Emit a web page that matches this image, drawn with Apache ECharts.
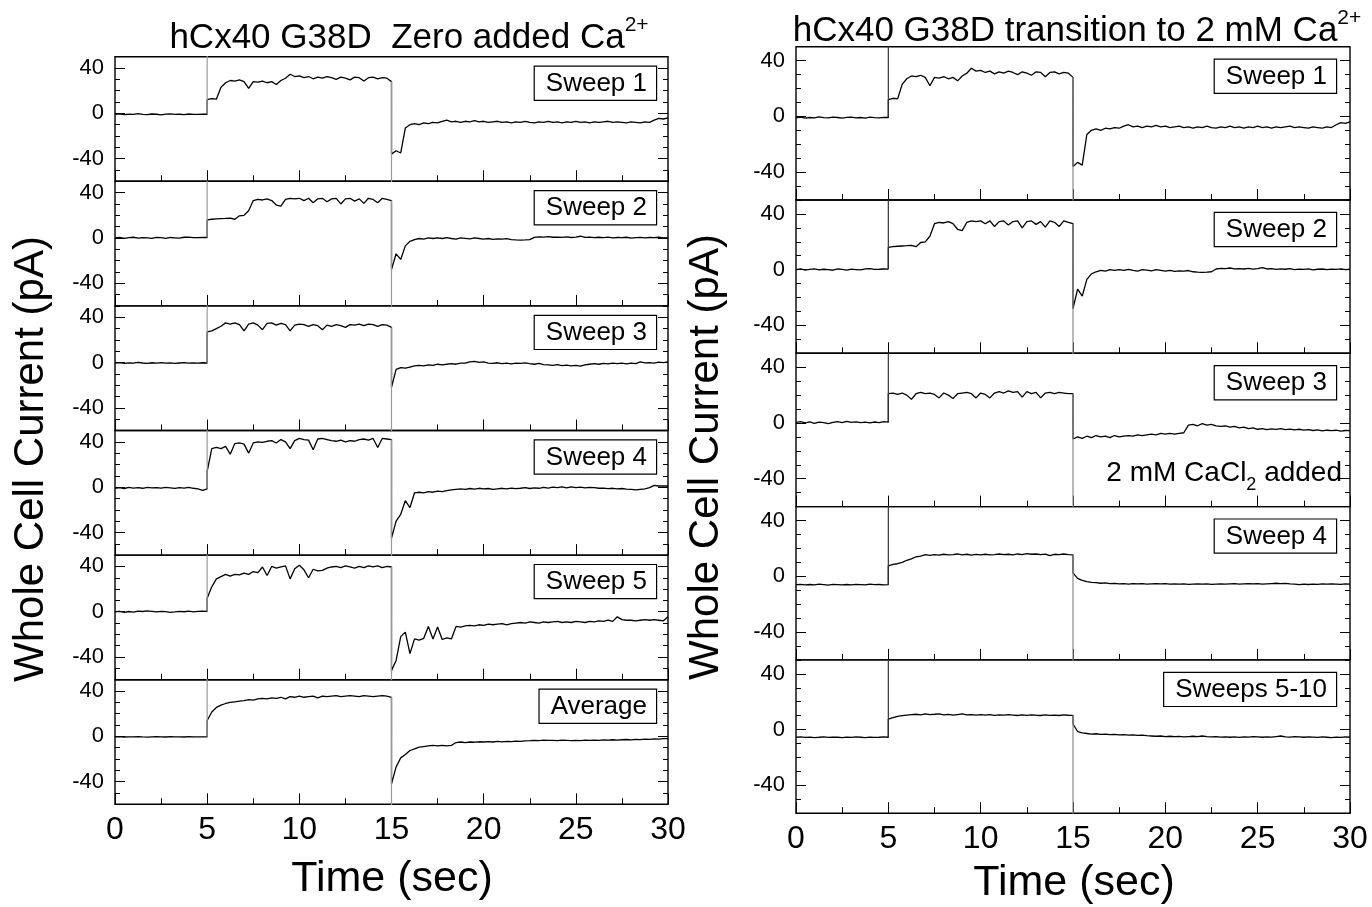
<!DOCTYPE html>
<html>
<head>
<meta charset="utf-8">
<title>hCx40 G38D whole cell current sweeps</title>
<script src="https://cdn.jsdelivr.net/npm/echarts@6.0.0/dist/echarts.min.js"></script>
<style>
  html, body { margin: 0; padding: 0; background: #fff; }
  #chart { width: 1372px; height: 907px; }
</style>
</head>
<body>
<div id="chart"></div>
<script>
// sampling grid (s): 0.25 s steps, the pulse edges at 5 s and 15 s are listed twice
const times = [];
for (let i = 0; i <= 120; i++) {
  const t = i * 0.25;
  times.push(t);
  if (t === 5 || t === 15) times.push(t);
}

// currents (pA). each array: 21 values 0-5 s, 41 values 5-15 s, 61 values 15-30 s
const sweep1 = [
  -1, -0.5, -1.2, -0.8, -1, -0.3, -0.9, -1.1, -0.6, -0.8, -1.3, -0.7, -0.5, -1, -0.8, -1.2, -0.6, -0.9, -1, -0.7, -0.8,
  12, 13, 12.5, 23, 27, 29, 28.5, 29.5, 28, 22, 28, 27.5, 28.5, 27, 28, 25.5, 29, 31, 34.5, 32.5,
  33, 31.5, 32.5, 30.5, 32, 31, 32.5, 31.5, 30, 32, 31, 29.5, 32, 31.5, 28.5, 31.5, 32, 30.5, 31.5, 31, 28,
  -36, -33, -35, -13, -10, -9, -10, -8.5, -9, -8, -8.5, -7, -6, -7.5, -7, -8, -7, -7.5, -6.5, -7.5,
  -7, -8, -7.5, -7, -8, -7.5, -8.5, -7.5, -8, -7, -8, -8.5, -7.5, -8, -7, -8, -7.5, -8.5, -7.5, -8,
  -7, -8, -7.5, -8.5, -7.5, -8, -7.5, -7, -8, -7.5, -8, -8.5, -7.5, -8, -8.5, -7.5, -8, -6, -4.5, -5, -4
];
const sweep2 = [
  0, 0.5, -0.3, 0.2, 0.6, -0.2, 0.3, 0, -0.4, 0.5, 0.2, -0.3, 0.4, 0.1, -0.2, 0.6, 0.8, 0.2, 0.3, 0.5, 0.4,
  16, 16.5, 16.8, 17, 17.2, 17.5, 16.5, 19.5, 20, 24, 33, 34, 33.5, 34.5, 33, 29, 28, 34, 35, 34.5,
  35, 33, 35, 31, 34.5, 35, 32, 34.5, 35, 30, 34.5, 35, 32.5, 34.5, 30.5, 35, 34, 31, 35, 34, 33,
  -28, -14, -19, -7, -3, -1.5, -0.5, -1, 0, -0.5, 0, -0.5, 0.3, -0.5, -1, 0, -0.3, -0.8, 0, -0.5,
  -1, -0.5, -1.2, -0.8, -1, -0.6, -1.5, -1.8, -2, -1.8, -1.5, 0.5, 1, 0.8, 1.2, 0.6, 0.8, 0.5, 1, 0.4,
  0.8, 1.5, 0.5, 0.8, 0.2, 0.6, 0.3, 0.8, 0, 0.4, 0.2, 0.6, -0.2, 0.3, 0.5, 0, 0.4, 0.2, 0.6, 0.1, 0.3
];
const sweep3 = [
  -0.5, 0, -0.8, -0.3, -0.6, 0.2, -0.4, -0.7, -0.2, -0.5, 0, -0.6, -0.3, -0.8, -0.4, -0.1, -0.6, -0.3, -0.5, -0.2, -0.4,
  27, 28, 30, 32, 35, 34, 35, 33.5, 28, 34, 35, 33, 29, 34.5, 35, 33, 34.5, 33.5, 28, 33,
  34, 33.5, 32, 33.5, 32.5, 29, 33, 32, 33.5, 32.5, 31, 33.5, 33, 34, 32.5, 34, 33.5, 32, 33.5, 33, 31,
  -22, -6, -4.5, -5, -4, -3, -2.5, -3, -2, -2.5, -1.5, -2, -1.5, -1, -1.5, -0.5, -0.5, 0.5, 1, 0.2,
  0.5, -0.5, -0.8, -0.2, -1, -0.5, -1.2, -0.6, -0.8, -0.3, -1, -1.5, -0.8, -1.8, -2, -2.5, -1.8, -2.8, -2.2, -3,
  -2.5, -3.2, -2, -1.5, -1, -1.5, -0.8, -1.2, -0.5, -1, -0.6, -1.2, -0.5, -1, 0.5, -0.3, 0, -0.5, 0.3, 0, 0.5
];
const sweep4 = [
  -1, -0.5, -1.2, -0.3, -0.8, -0.5, -1, -0.2, -0.7, -0.4, -0.9, -0.3, -0.6, -1.1, -0.5, -0.8, -0.3, -1, -1.5, -2.8, -1.5,
  14, 34, 35, 34, 36, 29, 38.5, 39, 38, 30, 39, 40, 39.5, 40.5, 41, 39, 42, 40, 34, 41,
  43, 42, 41.5, 33, 42.5, 43, 42, 41, 40.5, 41.5, 40, 41, 40.5, 42, 42.5, 41.5, 43, 35, 43, 42.5, 42,
  -45, -30, -24, -12, -18, -5, -4.5, -5, -4, -4.5, -3.5, -4, -3, -2.5, -2, -1.5, -2, -1.2, -1.8, -1,
  -1.5, -1.2, -2, -1.5, -1, -1.6, -0.8, -1.4, -1, -0.5, -1.2, -0.6, -1, -0.3, -0.8, 0, -0.5, 0.3, -0.6, 0.2,
  -0.4, 0, -0.6, -0.2, -0.5, -1, -0.8, -1.4, -1, -1.6, -1.2, -1.8, -2, -2.5, -2, -1.5, -0.5, 1.5, 1, 1.2, 1
];
const sweep5 = [
  0, 0.3, -0.5, 0.2, -0.3, 0.6, 0.2, 0.8, 0.3, -0.2, 0.4, 0.1, -0.5, -0.2, 0.3, 0, 0.5, -0.1, 0.4, 0.6, 0.3,
  12, 22, 29, 31, 33, 31.5, 33, 32.5, 34, 33, 35.5, 34.5, 39.5, 32, 40, 38.5, 39.5, 40.5, 29, 38,
  41, 37, 30, 37.5, 36, 36.5, 38.5, 39.5, 40, 39, 40.5, 39.5, 38.5, 40, 39, 40.5, 39.5, 40.5, 39, 40, 39.5,
  -52, -43, -22, -18, -37, -24, -25, -23.5, -13, -24, -13.5, -24.5, -23, -24, -13, -13.5, -12.5, -12, -12.5, -11.5,
  -12, -11, -11.5, -11, -10.5, -11.5, -10.5, -10, -9.5, -10, -9, -9.5, -10, -9, -9.5, -9, -8.5, -9.5, -9, -9.5,
  -8.5, -9, -9.5, -8.5, -9, -8, -8.5, -7.5, -8.5, -4.5, -7, -7.5, -7.5, -8, -7.5, -7, -7.5, -7, -7.5, -8, -4.5
];
const sweepAverage = [
  -0.5, -0.3, -0.6, -0.4, -0.5, -0.2, -0.5, -0.7, -0.4, -0.3, -0.5, -0.6, -0.3, -0.5, -0.4, -0.6, -0.3, -0.5, -0.4, -0.5, -0.4,
  14, 21.5, 25.5, 27.5, 29, 30, 30.5, 31, 31.5, 32.5, 32, 33, 33.5, 33, 34, 33.5, 34.5, 33, 35, 34.5,
  35.5, 34.5, 35, 35.5, 34, 35.5, 35, 35.5, 36, 35, 35.5, 36, 35.5, 35, 36, 35.5, 35, 35.5, 36, 35.5, 34.5,
  -42, -27, -19, -16, -12.5, -11, -9.5, -9, -8.5, -8, -8.5, -8, -8.5, -8, -5.5, -5, -5.5, -5, -5.2, -4.8,
  -5, -4.6, -5, -4.5, -4.8, -4.4, -4.6, -4.2, -4.5, -4, -3.8, -3.5, -3.8, -3.4, -3.6, -3.5, -3.8, -3.4, -3.6, -3.8,
  -3.5, -3.7, -3.4, -3.6, -3.3, -3.5, -3.2, -3.4, -3, -3.3, -3, -2.8, -3.1, -2.7, -2.9, -2.5, -2.6, -2.3, -2.5, -2.1, -2
];
const caSweep3 = [
  0.5, 1, 0, 0.8, -0.3, 0.6, 0.2, -0.5, 0.4, 0.9, 0.3, 1.2, 0.5, 0.8, 0.2, 0.6, 0, 0.7, 0.3, 1, 0.6,
  21, 21.5, 20.5, 21.5, 20, 17, 21, 22, 21, 21.5, 20.5, 18, 21.5, 20, 17.5, 21, 21.5, 22, 21, 18,
  21.5, 20.5, 18, 21.5, 22.5, 21.5, 23, 22, 22.5, 18.5, 22.5, 21, 22, 18, 21.5, 22, 21, 22, 21.5, 21, 21,
  -11.5, -10, -11, -9.5, -10.5, -9, -10, -9.5, -10.5, -9, -10, -9.5, -9, -9.5, -8.5, -9, -8.5, -8, -8.5, -7.5,
  -8, -7.5, -8, -7.5, -7, -1.5, -1, -2, -0.5, -1.5, -1, -2, -2.5, -2, -3, -2.5, -3.5, -3, -4, -3.5,
  -4.5, -4, -4.8, -4.2, -4.6, -4, -4.8, -4.4, -5, -4.5, -5.2, -4.8, -5.4, -5, -5.6, -5.2, -5.5, -5.2, -5.8, -5.4, -5.5
];
const caSweep4 = [
  -6, -5.8, -6.2, -5.9, -6.1, -5.7, -6, -6.3, -5.8, -6, -6.2, -5.9, -6.1, -5.8, -6, -6.2, -5.7, -6, -5.9, -6.1, -6,
  7.5, 8.5, 9, 10, 11.5, 12.5, 14, 14.5, 15.5, 15, 15.5, 15.2, 15.8, 15.3, 15.6, 16, 15.4, 15.8, 15.2, 15.7,
  15.4, 15.8, 15.3, 15.6, 16, 15.5, 15.8, 15.4, 16, 15.6, 16.2, 15.8, 16, 15.5, 15.9, 14.8, 15.8, 15.6, 16, 15.6, 15.4,
  2.4, -1.5, -3, -3.8, -4.4, -4.6, -5, -4.8, -5.3, -5.1, -5.5, -5.3, -5.6, -5.2, -5.5, -5.3, -5.6, -5.4, -5.2, -5.5,
  -5.3, -5.6, -5.4, -5.7, -5.5, -5.8, -5.6, -5.4, -5.7, -5.5, -5.8, -5.6, -5.4, -5.7, -5.5, -5.3, -5.6, -5.4, -5.2, -5.5,
  -5.3, -5.6, -5.4, -5.2, -5, -5.3, -5.1, -5.4, -5.6, -6, -5.7, -5.9, -5.6, -5.8, -5.5, -5.7, -5.4, -5.6, -5.8, -5.5, -5.6
];
const caSweeps5to10 = [
  -5.5, -5.3, -5.6, -5.4, -5.7, -5.5, -5.2, -5.6, -5.4, -5.5, -5.8, -5.4, -5.6, -5.3, -5.5, -5.7, -5.4, -5.6, -5.5, -5.3, -5.5,
  7.5, 8.5, 9.5, 10, 10.4, 10.8, 11, 10.6, 11.2, 10.8, 11, 11.3, 10.6, 10.9, 10.4, 10.8, 11.2, 10.5, 10.8, 10.3,
  10.7, 10.4, 10.8, 10.2, 10.6, 10.3, 10.7, 10.4, 10.1, 10.5, 10.2, 10.6, 10.3, 10.1, 10.5, 10.2, 10.4, 10.1, 10.5, 10.3, 10.2,
  4, -1.4, -2.4, -2.8, -3.2, -3, -3.4, -3.2, -3.6, -3.4, -3.8, -3.6, -4, -3.8, -4.2, -4, -4.4, -4.6, -4.8, -4.6,
  -5, -4.8, -5.1, -4.9, -5.2, -5, -4.8, -5.1, -4.6, -5, -5.3, -5.1, -5.4, -5.2, -5.5, -5.3, -5.6, -5.2, -5.4, -5.1,
  -5.3, -5.5, -5.2, -5.4, -5, -4.6, -5.2, -5.4, -5.1, -5.3, -5.5, -5.2, -5.4, -5.6, -5.3, -5.5, -5.7, -5.4, -5.6, -5.3, -5.5
];

const leftLabels = ['Sweep 1', 'Sweep 2', 'Sweep 3', 'Sweep 4', 'Sweep 5', 'Average'];
const leftTraces = [sweep1, sweep2, sweep3, sweep4, sweep5, sweepAverage];
const rightLabels = ['Sweep 1', 'Sweep 2', 'Sweep 3', 'Sweep 4', 'Sweeps 5-10'];
const rightTraces = [sweep1, sweep2, caSweep3, caSweep4, caSweeps5to10];

const xTicks = [0, 5, 10, 15, 20, 25, 30];
const yTickLabels = [-40, 0, 40];
const stepOn = 5;   // voltage step start (s)
const stepOff = 15; // voltage step end (s)

const FONT = "'Liberation Sans', Arial, sans-serif";

const columns = [
  { left: 115, width: 553, top: 56.7, height: 124.6, traces: leftTraces, labels: leftLabels,
    spikeOnColor: '#9a9a9a', spikeOffColor: '#9a9a9a', boxRight: 12, boxTop: 10 },
  { left: 796, width: 554, top: 46.7, height: 153.3, traces: rightTraces, labels: rightLabels,
    spikeOnColor: '#333', spikeOffColor: '#8a8a8a', boxRight: 14, boxTop: 13 }
];

const grid = [], xAxis = [], yAxis = [], series = [], graphic = [];
const tickLine = { color: '#000', width: 1 };

columns.forEach(col => {
  col.traces.forEach((vals, p) => {
    if (vals.length !== times.length) console.warn('length mismatch', col.labels[p], vals.length);
    const gi = grid.length;
    const top = col.top + p * col.height;
    const isBottom = p === col.traces.length - 1;
    grid.push({
      left: col.left, width: col.width, top: top, height: col.height,
      show: true, borderColor: '#000', borderWidth: 1.4, backgroundColor: 'transparent'
    });
    const xi = xAxis.length;
    // minor ticks every 2.5 s
    xAxis.push({
      gridIndex: gi, type: 'value', position: 'bottom', min: 0, max: 30, interval: 2.5,
      axisLine: { show: false, onZero: false }, splitLine: { show: false },
      axisTick: { inside: true, length: 6, lineStyle: tickLine },
      axisLabel: { show: false }
    });
    // major ticks every 5 s
    xAxis.push({
      gridIndex: gi, type: 'value', position: 'bottom', min: 0, max: 30, interval: 5,
      axisLine: { show: false, onZero: false }, splitLine: { show: false },
      axisTick: { inside: true, length: 11, lineStyle: tickLine },
      axisLabel: { show: isBottom, fontSize: 32, margin: 10, color: '#000', fontFamily: FONT,
        formatter: v => xTicks.includes(v) ? String(v) : '' }
    });
    const yi = yAxis.length;
    ['left', 'right'].forEach(side => {
      yAxis.push({
        gridIndex: gi, type: 'value', position: side, min: -60, max: 50, interval: 10,
        axisLine: { show: false, onZero: false }, splitLine: { show: false },
        axisTick: { inside: true, length: 5, lineStyle: tickLine },
        axisLabel: { show: side === 'left', fontSize: 22, margin: 11, color: '#000', fontFamily: FONT,
          formatter: v => yTickLabels.includes(v) ? String(v) : '' }
      });
      yAxis.push({
        gridIndex: gi, type: 'value', position: side, min: -60, max: 50, interval: 10,
        axisLine: { show: false, onZero: false }, splitLine: { show: false },
        axisTick: { inside: true, length: 10, customValues: yTickLabels, lineStyle: tickLine },
        axisLabel: { show: false }
      });
    });

    series.push({
      type: 'line', xAxisIndex: xi, yAxisIndex: yi, showSymbol: false, clip: true, z: 3,
      lineStyle: { color: '#000', width: 1.3 },
      data: times.map((t, k) => [t, vals[k]])
    });
    // capacitive transients at the step edges, drawn off scale
    series.push({
      type: 'line', xAxisIndex: xi, yAxisIndex: yi, showSymbol: false, clip: true, z: 4, silent: true,
      lineStyle: { color: col.spikeOnColor, width: 1.2 },
      data: [[stepOn, vals[20]], [stepOn, 200]]
    });
    series.push({
      type: 'line', xAxisIndex: xi, yAxisIndex: yi, showSymbol: false, clip: true, z: 4, silent: true,
      lineStyle: { color: col.spikeOffColor, width: 1.2 },
      data: [[stepOff, vals[61]], [stepOff, -200]]
    });

    graphic.push({
      type: 'text', z: 50,
      x: col.left + col.width - col.boxRight, y: top + col.boxTop,
      style: {
        text: col.labels[p], align: 'right', verticalAlign: 'top',
        fontSize: 26, fontFamily: FONT, fill: '#000',
        backgroundColor: '#fff', borderColor: '#000', borderWidth: 1.2, padding: [4, 9, 3, 11]
      }
    });
  });
});

const titleRich = {
  m: { fontSize: 35, lineHeight: 35, fontFamily: FONT, fill: '#000', verticalAlign: 'top', padding: [8, 0, 0, 0] },
  s: { fontSize: 21, lineHeight: 21, fontFamily: FONT, fill: '#000', verticalAlign: 'top', padding: [2, 0, 0, 0] }
};
graphic.push(
  { type: 'text', x: 409, y: 13, z: 60,
    style: { text: '{m|hCx40 G38D  Zero added Ca}{s|2+}', rich: titleRich, align: 'center', verticalAlign: 'top' } },
  { type: 'text', x: 1077, y: 6, z: 60,
    style: { text: '{m|hCx40 G38D transition to 2 mM Ca}{s|2+}', rich: titleRich, align: 'center', verticalAlign: 'top' } },
  { type: 'text', x: 1342, y: 459, z: 60,
    style: {
      text: '{m|2 mM CaCl}{b|2}{m| added}', align: 'right', verticalAlign: 'top',
      rich: {
        m: { fontSize: 28, lineHeight: 28, fontFamily: FONT, fill: '#000', verticalAlign: 'top' },
        b: { fontSize: 18, lineHeight: 18, fontFamily: FONT, fill: '#000', verticalAlign: 'top', padding: [17, 0, 0, 0] }
      }
    } },
  { type: 'text', x: 31, y: 459, rotation: Math.PI / 2, z: 60,
    style: { text: 'Whole Cell Current (pA)', fontSize: 42, fontFamily: FONT, fill: '#000', align: 'center', verticalAlign: 'middle' } },
  { type: 'text', x: 706, y: 457, rotation: Math.PI / 2, z: 60,
    style: { text: 'Whole Cell Current (pA)', fontSize: 42, fontFamily: FONT, fill: '#000', align: 'center', verticalAlign: 'middle' } },
  { type: 'text', x: 392, y: 879, z: 60,
    style: { text: 'Time (sec)', fontSize: 43, fontFamily: FONT, fill: '#000', align: 'center', verticalAlign: 'middle' } },
  { type: 'text', x: 1074, y: 883, z: 60,
    style: { text: 'Time (sec)', fontSize: 43, fontFamily: FONT, fill: '#000', align: 'center', verticalAlign: 'middle' } }
);

const chart = echarts.init(document.getElementById('chart'), null, { renderer: 'canvas' });
chart.setOption({
  animation: false,
  backgroundColor: '#fff',
  grid, xAxis, yAxis, series, graphic
});
</script>
</body>
</html>
